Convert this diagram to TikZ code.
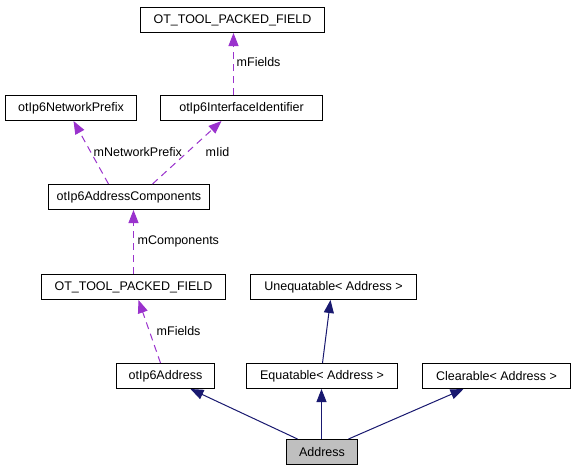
\documentclass[tikz,border=0pt]{standalone}
\usepackage{fontspec}
\setmainfont{Liberation Sans}
\usetikzlibrary{arrows.meta}
\definecolor{edgepurple}{HTML}{9A32CD}
\definecolor{edgenavy}{HTML}{191970}
\definecolor{boxgray}{HTML}{BFBFBF}
\begin{document}
\begin{tikzpicture}[x=1pt,y=-1pt,
 every node/.style={font=\fontsize{12.5}{14}\selectfont},
 box/.style={draw=black, line width=1pt, inner sep=0pt, minimum height=25pt, fill=white},
 uses/.style={draw=edgepurple, line width=1pt, dash pattern=on 7pt off 5pt, -{Triangle[length=13pt,width=10pt,fill=edgepurple]}},
 inh/.style={draw=edgenavy, line width=1pt, -{Triangle[length=13pt,width=10pt,fill=edgenavy]}},
 lbl/.style={inner sep=0pt, anchor=west}
]
\useasboundingbox (0,0) rectangle (575,471);
\fill[white] (0,0) rectangle (575,471);
\begin{scope}[shift={(0.5,0.5)}]
\node[box, minimum width=184pt] (topF) at (232,19.5) {OT\_TOOL\_PACKED\_FIELD};
\node[box, minimum width=162pt] (iid) at (241,107.5) {otIp6InterfaceIdentifier};
\node[box, minimum width=131pt] (prefix) at (70.5,107.5) {otIp6NetworkPrefix};
\node[box, minimum width=161pt] (comp) at (128.5,196.5) {otIp6AddressComponents};
\node[box, minimum width=184pt] (midF) at (133,286.5) {OT\_TOOL\_PACKED\_FIELD};
\node[box, minimum width=166pt] (unequ) at (333,286.5) {Unequatable< Address >};
\node[box, minimum width=98pt] (addr6) at (165,375.5) {otIp6Address};
\node[box, minimum width=151pt] (equ) at (321.5,375.5) {Equatable< Address >};
\node[box, minimum width=148pt] (clear) at (496,375.5) {Clearable< Address >};
\node[box, minimum width=71pt, fill=boxgray] (address) at (321.5,451.5) {Address};

% collaboration edges
\draw[uses] ([xshift=-8pt]iid.north) -- ([xshift=1pt]topF.south);
\node[lbl] (l1) at (236,62) {mFields};
\draw[uses] ([xshift=-20.5pt]comp.north) -- ([xshift=2.5pt]prefix.south);
\node[lbl] (l2) at (93,151.5) {mNetworkPrefix};
\draw[uses] ([xshift=23.5pt]comp.north) -- ([xshift=-20pt]iid.south);
\node[lbl] (l3) at (205,151.5) {mIid};
\draw[uses] (midF.north) -- ([xshift=4.5pt]comp.south);
\node[lbl] (l4) at (137,241) {mComponents};
\draw[uses] ([xshift=-5pt]addr6.north) -- ([xshift=5pt]midF.south);
\node[lbl] (l5) at (156,331) {mFields};

% inheritance edges
\draw[inh] ([xshift=-24.5pt]address.north) -- ([xshift=25pt]addr6.south);
\draw[inh] ([xshift=-0.5pt]address.north) -- ([xshift=-0.5pt]equ.south);
\draw[inh] ([xshift=26.5pt]address.north) -- ([xshift=-33pt]clear.south);
\draw[inh] ([xshift=0.5pt]equ.north) -- ([xshift=-3pt]unequ.south);
\end{scope}
\end{tikzpicture}
\end{document}
